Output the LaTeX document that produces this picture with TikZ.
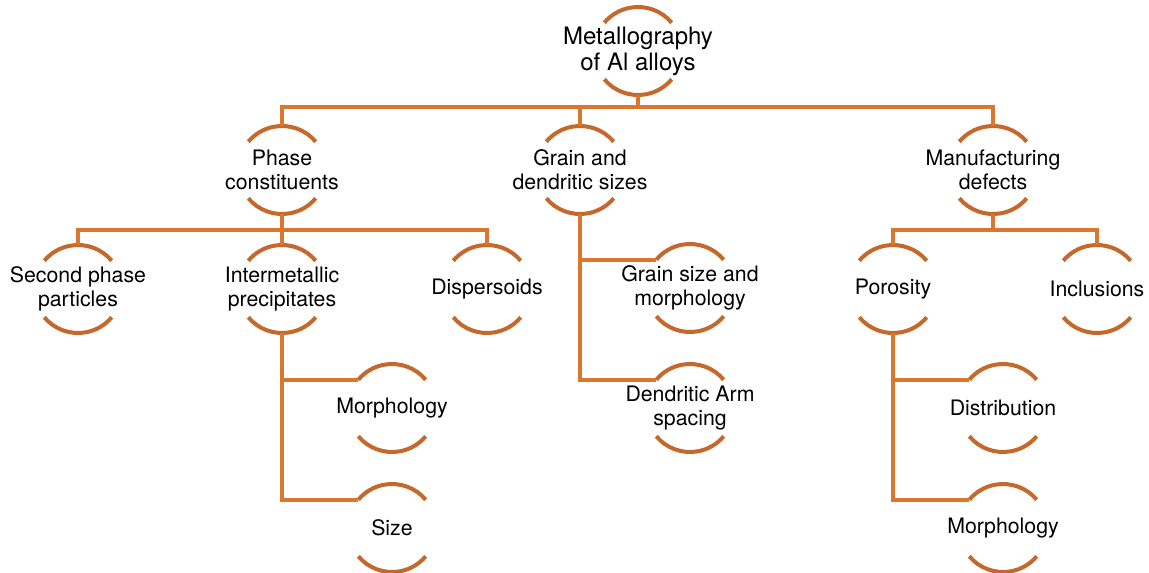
\documentclass[tikz,border=0pt]{standalone}
\usepackage{fontspec}
\setmainfont{TeX Gyre Heros}
\usetikzlibrary{calc}
\definecolor{linkorange}{RGB}{217,119,47}
\definecolor{ringorange}{RGB}{196,104,44}

\begin{document}
\begin{tikzpicture}[
    x=1pt,y=1pt,
    item/.style={rectangle,minimum height=88pt,inner sep=0pt,align=center,font=\fontsize{21.3}{24}\selectfont},
    link/.style={draw=linkorange,line width=4pt},
    ring/.style={draw=ringorange,line width=4pt}
]
    \useasboundingbox (0,0) rectangle (1149,-573);

    \node[item,font=\fontsize{24}{26}\selectfont] (root) at (638,-51) {Metallography\\of Al alloys};

    \node[item] (phase) at (282,-170) {Phase\\constituents};
    \node[item] (grain) at (580,-170) {Grain and\\dendritic sizes};
    \node[item] (manuf) at (993,-170) {Manufacturing\\defects};

    \node[item] (second) at (78,-289) {Second phase\\particles};
    \node[item] (inter) at (282,-289) {Intermetallic\\precipitates};
    \node[item] (disp) at (487,-289) {Dispersoids};
    \node[item] (gsize) at (690,-288) {Grain size and\\morphology};
    \node[item] (dendr) at (690,-408) {Dendritic Arm\\spacing};
    \node[item] (poro) at (893,-289) {Porosity};
    \node[item] (incl) at (1097,-289) {Inclusions};

    \node[item] (imorph) at (392,-408) {Morphology};
    \node[item] (isize) at (392,-528) {Size};
    \node[item] (distr) at (1003,-408) {Distribution};
    \node[item] (pmorph) at (1003,-528) {Morphology};

    \foreach \n in {root,phase,grain,manuf,second,inter,disp,gsize,dendr,poro,incl,imorph,isize,distr,pmorph}{
        \draw[ring] ($(\n.center)+(40:44)$) arc[start angle=40,end angle=140,radius=44];
        \draw[ring] ($(\n.center)+(220:44)$) arc[start angle=220,end angle=320,radius=44];
    }

    \draw[link] (root.south) -- ++(0,-12) coordinate (b0);
    \draw[link] (phase.north) |- (b0) -| (manuf.north);
    \draw[link] (b0) -| (grain.north);

    \draw[link] (phase.south) -- ++(0,-16) coordinate (b1);
    \draw[link] (second.north) |- (b1) -| (disp.north);
    \draw[link] (b1) -- (inter.north);

    \draw[link] (manuf.south) -- ++(0,-16) coordinate (b2);
    \draw[link] (poro.north) |- (b2) -| (incl.north);

    \draw[link] (grain.south) |- ($(gsize.center)+(140:44)$);
    \draw[link] (grain.south) |- ($(dendr.center)+(140:44)$);
    \draw[link] (inter.south) |- ($(imorph.center)+(140:44)$);
    \draw[link] (inter.south) |- ($(isize.center)+(140:44)$);
    \draw[link] (poro.south) |- ($(distr.center)+(140:44)$);
    \draw[link] (poro.south) |- ($(pmorph.center)+(140:44)$);
\end{tikzpicture}
\end{document}
